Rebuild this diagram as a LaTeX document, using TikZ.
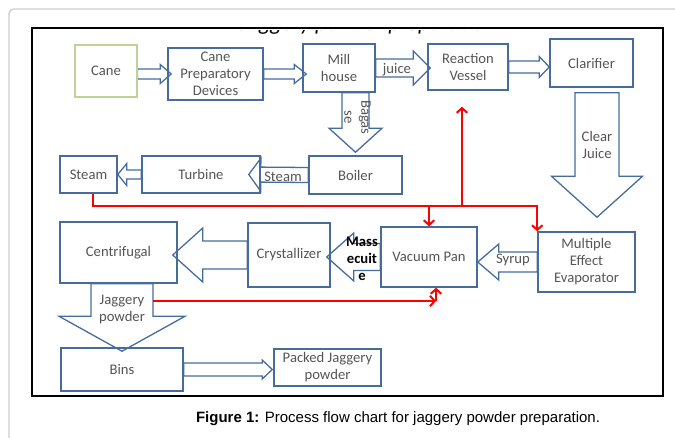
\documentclass[tikz,border=0pt]{standalone}
\usepackage{fontspec}
\setmainfont{Carlito}
\newfontfamily\capfont{Liberation Sans}
\usetikzlibrary{arrows.meta,calc,backgrounds}
\newcommand{\px}{0.03cm}
\definecolor{boxblue}{RGB}{70,108,158}
\definecolor{canegreen}{RGB}{190,212,150}
\definecolor{txtgray}{RGB}{85,85,85}
\definecolor{framegray}{RGB}{205,205,205}
\tikzset{
  box/.style={rectangle, draw=boxblue, line width=1.3pt, inner sep=1pt, align=center, text=txtgray, font=\fontsize{12.5}{14.5}\selectfont},
  barrow/.style={draw=boxblue, fill=white, line width=1.1pt, line join=miter},
  albl/.style={text=txtgray, inner sep=0pt, align=center, font=\fontsize{12.5}{14.5}\selectfont},
  redarr/.style={draw=red, line width=1.7pt, -{Straight Barb[length=4pt,width=9pt]}},
  capt/.style={inner sep=0pt, font=\capfont\fontsize{12.8}{14}\selectfont}
}
% block arrow: from, to, shaft half width, head half width, head length (px)
\newcommand{\blockarrow}[5]{%
  \coordinate (bs) at (#1);
  \coordinate (be) at (#2);
  \coordinate (hb) at ($(be)!#5*\px!(bs)$);
  \draw[barrow] ($(bs)!#3*\px!90:(be)$) -- ($(hb)!#3*\px!-90:(bs)$)
    -- ($(hb)!#4*\px!-90:(bs)$) -- (be) -- ($(hb)!#4*\px!90:(bs)$)
    -- ($(hb)!#3*\px!90:(bs)$) -- ($(bs)!#3*\px!-90:(be)$) -- cycle;}

\begin{document}
\begin{tikzpicture}[x=\px, y=-\px]
    \useasboundingbox (0,0) rectangle (675,437);
    % cut-off title at the top of the figure (only its lowest part shows)
    \node[anchor=base west, inner sep=0pt, font=\itshape\fontsize{19}{19}\selectfont] (scrib) at (240,30.5) {Jaggery powder preparation};
    \fill[white] (12,12) rectangle (662,29.5);
    % page and figure frames
    \draw[framegray, line width=1.2pt, rounded corners=4pt] (9,450) -- (9,9) -- (690,9);
    \draw[line width=1.5pt] (32,28) rectangle (663,396);

    % top row
    \node[box, draw=canegreen, line width=1pt, minimum width=62*\px, minimum height=52*\px] (cane) at (106,71) {Cane};
    \node[box, minimum width=95*\px, minimum height=52*\px] (prep) at (215.5,74) {Cane\\Preparatory\\Devices};
    \node[box, minimum width=72*\px, minimum height=48*\px] (mill) at (339,68) {Mill\\house};
    \node[box, minimum width=80*\px, minimum height=46*\px] (rv) at (468,67) {Reaction\\Vessel};
    \node[box, minimum width=83*\px, minimum height=48*\px] (clar) at (591.5,63) {Clarifier};

    % steam row
    \node[box, minimum width=57*\px, minimum height=37*\px] (stm) at (88.5,174.5) {Steam};
    \node[box, minimum width=118*\px, minimum height=37*\px] (turb) at (201,174.5) {Turbine};
    \node[box, minimum width=93*\px, minimum height=38*\px] (boil) at (355.5,175) {Boiler};

    % pan row
    \node[box, minimum width=117*\px, minimum height=61*\px] (cent) at (118.5,252.5) {Centrifugal};
    \node[box, minimum width=82*\px, minimum height=64*\px] (cryst) at (289,255) {Crystallizer};
    \node[box, minimum width=96*\px, minimum height=60*\px] (vpan) at (429,257) {Vacuum Pan};
    \node[box, minimum width=97*\px, minimum height=60*\px] (mee) at (586.5,262) {Multiple\\Effect\\Evaporator};

    % bottom row
    \node[box, minimum width=122*\px, minimum height=43*\px] (bins) at (122,369.5) {Bins};
    \node[box, minimum width=107*\px, minimum height=37*\px] (pack) at (327.5,367.5) {Packed Jaggery\\powder};

    % block arrows between the boxes
    \begin{scope}[on background layer]
    \blockarrow{cane.east |- prep.west}{[xshift=4*\px]prep.west}{5}{9.5}{11}
    \blockarrow{prep.east}{[xshift=4*\px]mill.west |- prep.east}{5}{9.5}{12}
    \blockarrow{mill.east}{[xshift=3*\px]rv.west |- mill.east}{9}{17}{17}
    \blockarrow{rv.east}{clar.west |- rv.east}{6}{10.5}{10}
    \coordinate (cjtop) at ([xshift=5.5*\px,yshift=-5*\px]clar.south);
    \blockarrow{cjtop}{[yshift=14*\px]cjtop |- mee.north}{22}{45.5}{41}
    \blockarrow{boil.north |- mill.south}{[yshift=3*\px]boil.north}{13.5}{26.5}{24}
    \blockarrow{boil.west}{[xshift=-12*\px]turb.east}{7.5}{16.5}{12}
    \blockarrow{turb.west}{stm.east}{4.5}{11}{9}
    \blockarrow{mee.west}{vpan.east |- mee.west}{10}{18}{21}
    \blockarrow{vpan.west}{[xshift=-4*\px]cryst.east |- vpan.west}{13.5}{24}{27}
    \blockarrow{cryst.west}{[xshift=-5*\px]cent.east |- cryst.west}{14}{27}{30}
    \blockarrow{bins.north |- cent.south}{[yshift=-4*\px]bins.north}{31}{63}{35}
    \blockarrow{bins.east}{[xshift=-1*\px]pack.west |- bins.east}{6.5}{9.5}{10}
    \end{scope}

    % labels in the arrows
    \node[albl] (juice) at (397,70) {juice};
    \node[albl] (cj) at (597,145) {Clear\\Juice};
    \node[albl, rotate=-90] (bag) at (357.5,117.5) {Bagas\\se};
    \node[albl] (stlbl) at (283,177) {Steam};
    \node[albl] (syrup) at (513,260) {Syrup};
    \node[albl, text=black, font=\bfseries\fontsize{12.5}{14.5}\selectfont] (masse) at (362,259) {Mass\\ecuit\\e};
    \node[albl] (jag) at (122,309) {Jaggery\\powder};

    % steam lines (red)
    \coordinate (bus) at (0,206);
    \coordinate (rvin) at ([xshift=-6*\px,yshift=-16*\px]rv.south);
    \coordinate (jpr) at (153,301);
    \coordinate (vpin) at ([xshift=7*\px]vpan.south |- jpr);
    \draw[redarr] ([xshift=4.5*\px]stm.south) |- (mee.north west |- bus) -- (mee.north west);
    \draw[redarr] (rvin |- bus) -- (rvin);
    \draw[redarr] (vpan.north |- bus) -- (vpan.north);
    \draw[redarr] (jpr) -- (vpin);
    \draw[redarr] (vpin) -- (vpin |- vpan.south);

    % caption
    \node[capt] (cap) at (398,419) {\textbf{Figure 1:} Process flow chart for jaggery powder preparation.};
\end{tikzpicture}
\end{document}
